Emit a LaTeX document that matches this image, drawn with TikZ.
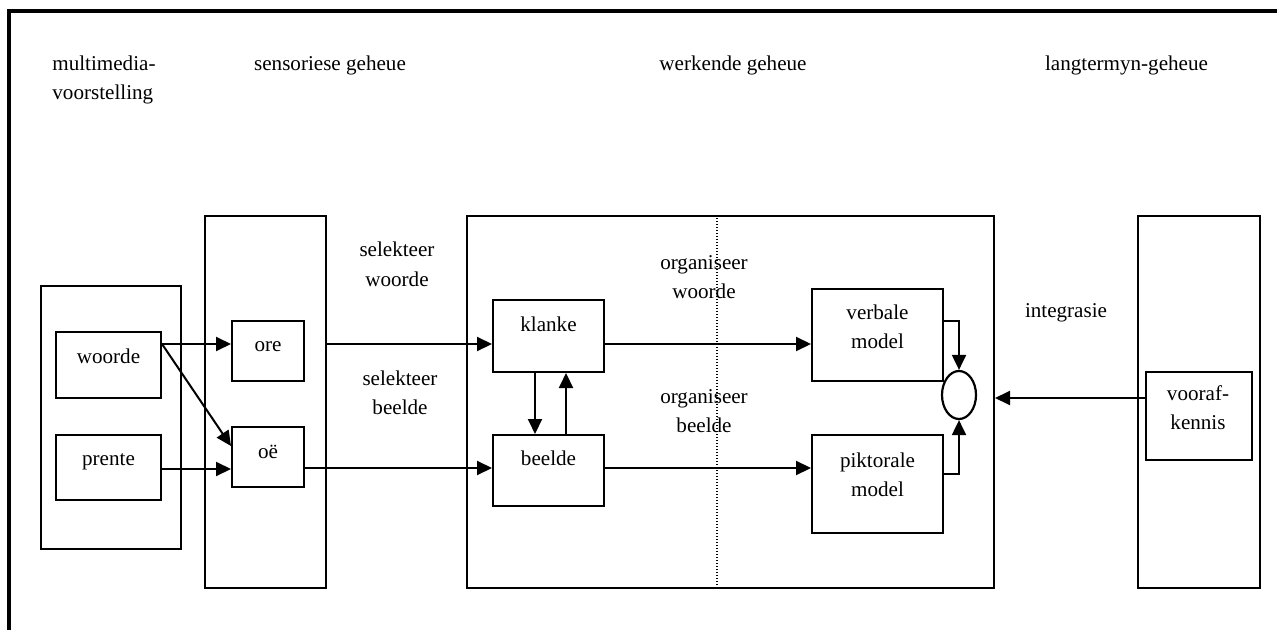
\documentclass[tikz,border=0pt]{standalone}
\usepackage{fontspec}
\setmainfont{Liberation Serif}
\usetikzlibrary{arrows.meta,shapes.geometric}
\newcommand{\twoc}[2]{\begin{tabular}[t]{@{}c@{}}#1\\#2\end{tabular}}
\newcommand{\twol}[2]{\begin{tabular}[t]{@{}l@{}}#1\\#2\end{tabular}}
\tikzset{
  box/.style={draw, line width=1pt, inner sep=0pt},
  txt/.style={inner sep=0pt, anchor=base, font=\fontsize{10.55}{14.5}\selectfont},
  arr/.style={line width=1pt, -{Triangle[length=7.5pt,width=7pt]}},
  dotline/.style={line width=0.6pt, dash pattern=on 0.6pt off 0.9pt},
  frame/.style={line width=2pt}
}
\begin{document}
\begin{tikzpicture}[x=0.5pt,y=-0.5pt]
\useasboundingbox (0,0) rectangle (1277,630);
% frame (top and left only)
\draw[frame] (8.7,660) -- (8.7,11.3) -- (1300,11.3);

% column boxes
\node[box, minimum width=70pt, minimum height=131.5pt] (mm) at (111,417.5) {};
\node[box, minimum width=60.5pt, minimum height=186pt] (sens) at (265.5,402) {};
\node[box, minimum width=263.5pt, minimum height=186pt] (werk) at (730.5,402) {};
\node[box, minimum width=61pt, minimum height=186pt] (lang) at (1199,402) {};

% inner boxes
\node[box, minimum width=52.5pt, minimum height=33pt] (woorde) at (108.5,365) {};
\node[box, minimum width=52.5pt, minimum height=32.5pt] (prente) at (108.5,467.5) {};
\node[box, minimum width=36pt, minimum height=30pt] (ore) at (268,351) {};
\node[box, minimum width=36pt, minimum height=30pt] (oe) at (268,457) {};
\node[box, minimum width=55.5pt, minimum height=36pt] (klanke) at (548.5,336) {};
\node[box, minimum width=55.5pt, minimum height=35.5pt] (beelde) at (548.5,470.5) {};
\node[box, minimum width=65.5pt, minimum height=46pt] (verbale) at (877.5,335) {};
\node[box, minimum width=65.5pt, minimum height=49pt] (piktorale) at (877.5,484) {};
\node[box, minimum width=53pt, minimum height=44pt] (vooraf) at (1199,416) {};
\node[draw, line width=1.1pt, ellipse, inner sep=0pt, minimum width=17pt, minimum height=24pt] (ell) at (959,395) {};

% dotted divider
\coordinate (xDot) at (717,0);
\draw[dotline] (werk.north -| xDot) -- (werk.south -| xDot);

% headings
\node[txt, anchor=base west] (tMM) at (52,71) {\twol{multimedia-}{voorstelling}};
\node[txt] (tSens) at (330,71) {sensoriese geheue};
\node[txt] (tWerk) at (733,71) {werkende geheue};
\node[txt] (tLang) at (1126.5,71) {langtermyn-geheue};

% box texts
\node[txt] (woordeT) at (108.5,363) {woorde};
\node[txt] (prenteT) at (108.5,465) {prente};
\node[txt] (oreT) at (268,351) {ore};
\node[txt] (oeT) at (268,458) {oë};
\node[txt] (klankeT) at (548.5,331) {klanke};
\node[txt] (beeldeT) at (548.5,465) {beelde};
\node[txt] (verbaleT) at (877.5,319) {\twoc{verbale}{model}};
\node[txt] (piktoraleT) at (877.5,467) {\twoc{piktorale}{model}};
\node[txt] (voorafT) at (1198,400) {\twoc{vooraf-}{kennis}};

% process labels
\node[txt] (selW) at (397,257) {\twoc{selekteer}{woorde}};
\node[txt] (selB) at (400,385) {\twoc{selekteer}{beelde}};
\node[txt] (orgW) at (704,270) {\twoc{organiseer}{woorde}};
\node[txt] (orgB) at (704,403) {\twoc{organiseer}{beelde}};
\node[txt] (integ) at (1066,317) {integrasie};

% helper levels
\coordinate (yA) at (0,344);
\coordinate (yB) at (0,469);
\coordinate (yC) at (0,468);
\coordinate (dA) at (0,446);
\coordinate (xD) at (535,0);
\coordinate (xU) at (566,0);
\coordinate (yV) at (0,321);
\coordinate (yP) at (0,474);
\coordinate (yI) at (0,398);

% connectors
\draw[arr] (woorde.east |- yA) -- (ore.west |- yA);
\draw[arr] (woorde.east |- yA) -- (oe.west |- dA);
\draw[arr] (prente.east |- yB) -- (oe.west |- yB);
\draw[arr] (sens.east |- yA) -- (klanke.west |- yA);
\draw[arr] (oe.east |- yC) -- (beelde.west |- yC);
\draw[arr] (klanke.east |- yA) -- (verbale.west |- yA);
\draw[arr] (beelde.east |- yC) -- (piktorale.west |- yC);
\draw[arr] (klanke.south -| xD) -- (beelde.north -| xD);
\draw[arr] (beelde.north -| xU) -- (klanke.south -| xU);
\draw[arr] (verbale.east |- yV) -| (ell.north);
\draw[arr] (piktorale.east |- yP) -| (ell.south);
\draw[arr] (vooraf.west |- yI) -- (werk.east |- yI);
\end{tikzpicture}
\end{document}
